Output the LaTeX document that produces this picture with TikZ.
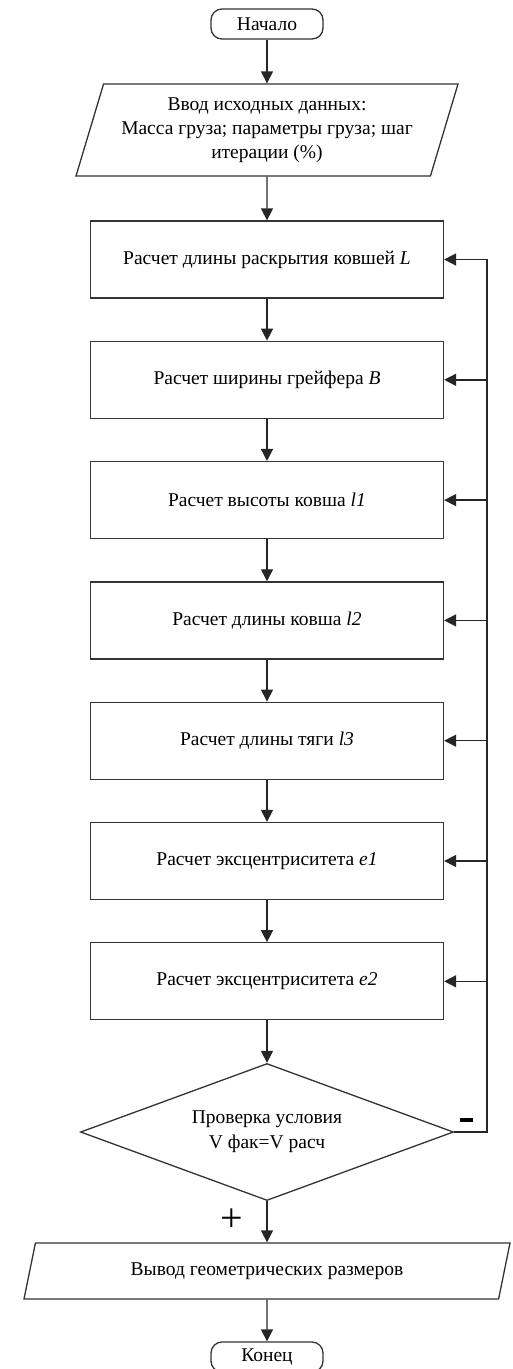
\documentclass[tikz,border=0pt]{standalone}
\usepackage{fontspec}
\setmainfont{Liberation Serif}
\usepackage{tikz}
\usetikzlibrary{arrows.meta}
\usetikzlibrary{shapes.geometric}
\tikzset{>=latex}
\tikzstyle{term} = [rectangle, rounded corners=11pt, draw=black!80, line width=1.3pt, minimum width=112pt, minimum height=30pt, inner sep=0pt, font=\fontsize{19.5}{22}\selectfont]
\tikzstyle{blk} = [rectangle, draw=black!80, line width=1.3pt, minimum width=353pt, minimum height=77pt, font=\fontsize{19.5}{24}\selectfont]
\tikzstyle{io} = [trapezium, trapezium stretches body, draw=black!80, line width=1.3pt, inner sep=0pt, align=center, font=\fontsize{19.5}{24}\selectfont]
\tikzstyle{cond} = [diamond, aspect=2.72, draw=black!80, line width=1.3pt, minimum width=373pt, minimum height=137pt, inner sep=0pt, align=center, font=\fontsize{19.5}{25}\selectfont]
\tikzstyle{flw} = [-{Triangle[length=12pt, width=12pt]}, draw=black!85, line width=1.4pt]

\begin{document}
\begin{tikzpicture}[x=1pt, y=-1pt]
\useasboundingbox (0, 0) rectangle (513, 1369);
\node [term] (bgn) at (267, 24) {Начало};
\node [io, trapezium left angle=67, trapezium right angle=113, minimum width=382pt, minimum height=92pt] (inp) at (267, 130) {Ввод исходных данных:\\Масса груза; параметры груза; шаг\\итерации (\%)};
\node [blk] (c1) at (267, 259.5) {Расчет длины раскрытия ковшей \textit{L}};
\node [blk] (c2) at (267, 379.8) {Расчет ширины грейфера \textit{B}};
\node [blk] (c3) at (267, 500.1) {Расчет высоты ковша \textit{l1}};
\node [blk] (c4) at (267, 620.4) {Расчет длины ковша \textit{l2}};
\node [blk] (c5) at (267, 740.7) {Расчет длины тяги \textit{l3}};
\node [blk] (c6) at (267, 861) {Расчет эксцентриситета \textit{e1}};
\node [blk] (c7) at (267, 981.3) {Расчет эксцентриситета \textit{e2}};
\node [cond] (chk) at (267, 1132) {Проверка условия\\V фак=V расч};
\node [io, trapezium left angle=56, trapezium right angle=124, minimum width=486pt, minimum height=56pt] (out) at (267, 1271) {Вывод геометрических размеров};
\node [term] (fin) at (267, 1357) {Конец};
\coordinate (rt) at (487, 1132);
% main chain
\draw [flw] (bgn) to (inp);
\draw [flw] (inp) to (c1);
\draw [flw] (c1) to (c2);
\draw [flw] (c2) to (c3);
\draw [flw] (c3) to (c4);
\draw [flw] (c4) to (c5);
\draw [flw] (c5) to (c6);
\draw [flw] (c6) to (c7);
\draw [flw] (c7) to (chk);
\draw [flw] (chk) to (out);
\draw [flw] (out) to (fin);
% return line on the right
\draw [flw, line width=1.8pt] (chk.east) -- (rt) |- (c1.east);
\draw [flw] (c2.east -| rt) -- (c2.east);
\draw [flw] (c3.east -| rt) -- (c3.east);
\draw [flw] (c4.east -| rt) -- (c4.east);
\draw [flw] (c5.east -| rt) -- (c5.east);
\draw [flw] (c6.east -| rt) -- (c6.east);
\draw [flw] (c7.east -| rt) -- (c7.east);
\node [inner sep=0pt] (mns) at (466, 1120) {\rule{13pt}{3.5pt}};
\node [font=\fontsize{40}{40}\selectfont] (pls) at (232, 1220) {+};
\end{tikzpicture}
\end{document}
